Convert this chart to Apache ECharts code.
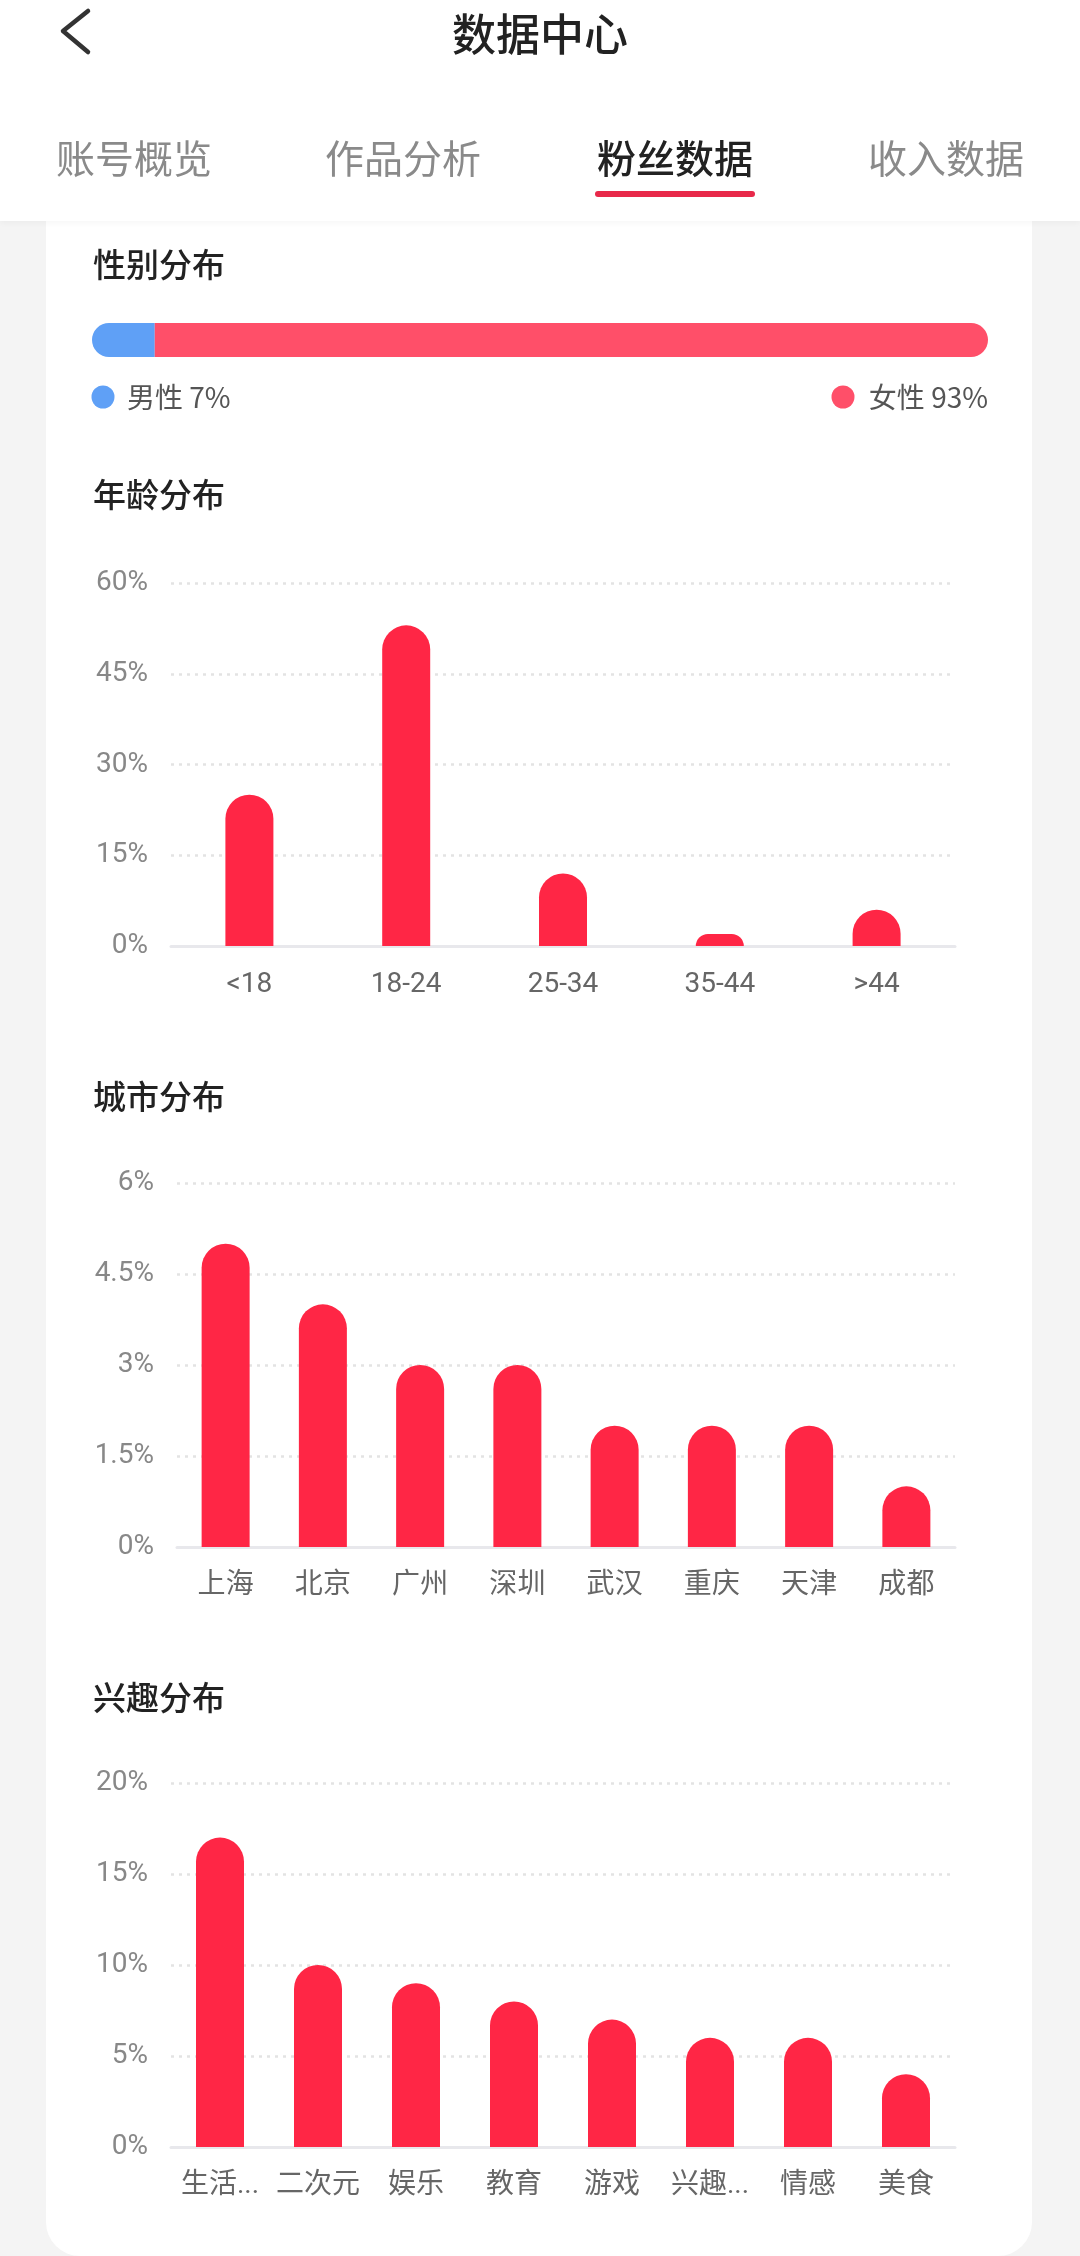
<!DOCTYPE html>
<html>
<head>
<meta charset="utf-8">
<script src="https://cdn.jsdelivr.net/npm/echarts@6/dist/echarts.min.js"></script>
<style>
html,body{margin:0;padding:0;background:#f4f4f4;}
#chart{width:1080px;height:2256px;}
</style>
</head>
<body>
<div id="chart"></div>
<script>
// ---- data ----
const pageTitle = '数据中心';
const tabs = ['账号概览', '作品分析', '粉丝数据', '收入数据'];
const activeTab = 2;
const sectionTitles = ['性别分布', '年龄分布', '城市分布', '兴趣分布'];

const genderLabels = ['男性', '女性'];
const genderValues = [7, 93];

const ageCategories = ['<18', '18-24', '25-34', '35-44', '>44'];
const ageValues = [25, 53, 12, 2, 6];
const ageAxis = { max: 60, interval: 15 };

const cityCategories = ['上海', '北京', '广州', '深圳', '武汉', '重庆', '天津', '成都'];
const cityValues = [5, 4, 3, 3, 2, 2, 2, 1];
const cityAxis = { max: 6, interval: 1.5 };

const interestCategories = ['生活...', '二次元', '娱乐', '教育', '游戏', '兴趣...', '情感', '美食'];
const interestValues = [17, 10, 9, 8, 7, 6, 6, 4];
const interestAxis = { max: 20, interval: 5 };

// ---- styles ----
const FONT = 'Roboto, "Noto Sans CJK SC", sans-serif';
const CJK = '"Noto Sans CJK SC", Roboto, sans-serif';
const BAR_RED = '#ff2645';
const MALE_BLUE = '#5fa0f6';
const FEMALE_RED = '#ff4f69';

const chart = echarts.init(document.getElementById('chart'), null, { renderer: 'canvas' });

const tabCenters = [134, 403, 675, 946];

const graphics = [
  // card
  { type: 'rect', z: -10, shape: { x: 46, y: 150, width: 986, height: 2256 - 150, r: [0, 0, 34, 34] }, style: { fill: '#ffffff' } },
  // header
  { type: 'rect', z: -5, shape: { x: 0, y: 0, width: 1080, height: 221 }, style: { fill: '#ffffff', shadowBlur: 6, shadowColor: 'rgba(0,0,0,0.04)', shadowOffsetY: 2 } },
  // back arrow
  { type: 'polyline', z: 5, shape: { points: [[88, 11], [63, 31], [88, 52]] }, style: { stroke: '#333', lineWidth: 4.5, fill: null, lineCap: 'round', lineJoin: 'round' } },
  { type: 'text', z: 5, style: { text: pageTitle, x: 540, y: 34, align: 'center', verticalAlign: 'middle', font: '500 44px ' + CJK, fill: '#222' } },
  // tab underline
  { type: 'rect', z: 5, shape: { x: 595, y: 191, width: 160, height: 6, r: 3 }, style: { fill: '#e8294a' } }
];
tabs.forEach((t, i) => {
  graphics.push({ type: 'text', z: 5, style: {
    text: t, x: tabCenters[i], y: 158, align: 'center', verticalAlign: 'middle',
    font: (i === activeTab ? '500 ' : '400 ') + '39px ' + CJK,
    fill: i === activeTab ? '#222' : '#8a8a8a' } });
});
const titleY = [264, 494, 1096, 1697];
sectionTitles.forEach((t, i) => {
  graphics.push({ type: 'text', z: 5, style: { text: t, x: 93, y: titleY[i], verticalAlign: 'middle', font: '500 33px ' + CJK, fill: '#222' } });
});
// gender legend
graphics.push({ type: 'circle', z: 5, shape: { cx: 103, cy: 397, r: 11.5 }, style: { fill: MALE_BLUE } });
graphics.push({ type: 'text', z: 5, style: { text: genderLabels[0] + ' ' + genderValues[0] + '%', x: 127, y: 397, verticalAlign: 'middle', font: '400 28px ' + CJK, fill: '#555' } });
graphics.push({ type: 'text', z: 5, style: { text: genderLabels[1] + ' ' + genderValues[1] + '%', x: 988, y: 397, align: 'right', verticalAlign: 'middle', font: '400 28px ' + CJK, fill: '#555' } });
graphics.push({ type: 'circle', z: 5, shape: { cx: 843, cy: 397, r: 11.5 }, style: { fill: FEMALE_RED } });

const grids = [
  { left: 92, width: 896, top: 323, height: 34 },
  { left: 171, right: 125, top: 583, height: 363 },
  { left: 177, right: 125, top: 1183, height: 364 },
  { left: 171, right: 125, top: 1783, height: 364 }
];

function catAxis(idx, cats) {
  return {
    type: 'category', gridIndex: idx, data: cats,
    axisTick: { show: false },
    axisLine: { lineStyle: { color: '#e8e8ec', width: 3 } },
    axisLabel: { color: '#666', fontSize: 28, fontFamily: FONT, margin: 25, interval: 0 }
  };
}
function valAxis(idx, ax) {
  return {
    type: 'value', gridIndex: idx, min: 0, max: ax.max, interval: ax.interval,
    axisLine: { show: false }, axisTick: { show: false },
    axisLabel: { color: '#888', fontSize: 28, fontFamily: FONT, margin: 23, formatter: '{value}%' },
    splitLine: { lineStyle: { color: '#e3e3e3', width: 2.5, type: [3, 5] } }
  };
}
function barSeries(idx, vals) {
  return {
    type: 'bar', xAxisIndex: idx, yAxisIndex: idx, data: vals,
    barWidth: 48, itemStyle: { color: BAR_RED, borderRadius: [24, 24, 0, 0] },
    silent: true, animation: false
  };
}

const option = {
  backgroundColor: '#f4f4f4',
  animation: false,
  graphic: graphics,
  grid: grids,
  xAxis: [
    { type: 'value', gridIndex: 0, min: 0, max: 100, show: false },
    catAxis(1, ageCategories),
    catAxis(2, cityCategories),
    catAxis(3, interestCategories)
  ],
  yAxis: [
    { type: 'category', gridIndex: 0, data: ['gender'], show: false },
    valAxis(1, ageAxis),
    valAxis(2, cityAxis),
    valAxis(3, interestAxis)
  ],
  series: [
    { type: 'bar', xAxisIndex: 0, yAxisIndex: 0, stack: 'g', data: [genderValues[0]], barWidth: 34,
      itemStyle: { color: MALE_BLUE, borderRadius: [17, 0, 0, 17] }, silent: true },
    { type: 'bar', xAxisIndex: 0, yAxisIndex: 0, stack: 'g', data: [genderValues[1]], barWidth: 34,
      itemStyle: { color: FEMALE_RED, borderRadius: [0, 17, 17, 0] }, silent: true },
    barSeries(1, ageValues),
    barSeries(2, cityValues),
    barSeries(3, interestValues)
  ]
};
chart.setOption(option);
</script>
</body>
</html>
